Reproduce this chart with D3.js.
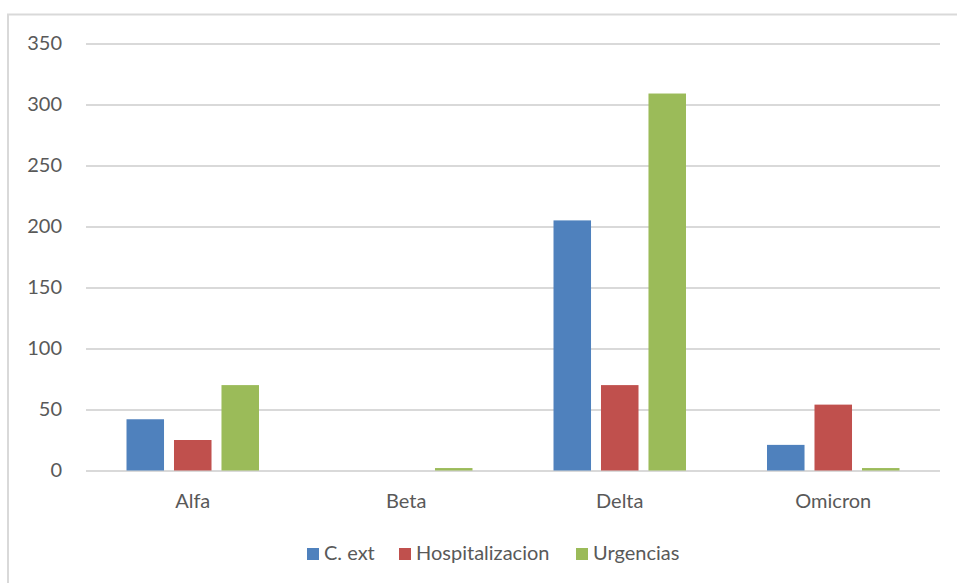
<!DOCTYPE html>
<html>
<head>
<meta charset="utf-8">
<script src="https://cdn.jsdelivr.net/npm/d3@7"></script>
<style>
  html, body { margin: 0; padding: 0; background: #ffffff; }
  svg { display: block; }
  text { font-family: Lato, "Open Sans", sans-serif; fill: #595959; }
</style>
</head>
<body>
<svg id="chart" width="957" height="583"></svg>
<script>
// Cases per variant and care type
const categories = ["Alfa", "Beta", "Delta", "Omicron"];
const seriesNames = ["C. ext", "Hospitalizacion", "Urgencias"];
const cExt = [42, 0, 205, 21];
const hospitalizacion = [25, 0, 70, 54];
const urgencias = [70, 2, 309, 2];
const yTicks = [0, 50, 100, 150, 200, 250, 300, 350];
const colors = ["#4F81BD", "#C0504D", "#9BBB59"];

const seriesValues = [cExt, hospitalizacion, urgencias];

const svg = d3.select("#chart");
const W = 957, H = 583;

// chart area frame
svg.append("rect")
  .attr("x", 8).attr("y", 14.5)
  .attr("width", 1200).attr("height", 1200)
  .attr("fill", "#ffffff")
  .attr("stroke", "#d9d9d9").attr("stroke-width", 2);

const plot = { left: 86, right: 940, top: 43.5, bottom: 470.5 };

const x = d3.scaleBand()
  .domain(categories)
  .range([plot.left, plot.right])
  .paddingInner(0).paddingOuter(0);

const xs = d3.scaleBand()
  .domain(seriesNames)
  .range([0, x.bandwidth()])
  .paddingInner(0.21)
  .paddingOuter(0.853);

const y = d3.scaleLinear()
  .domain([0, 350])
  .range([plot.bottom, plot.top]);

// horizontal gridlines and value labels
const yAxis = d3.axisLeft(y)
  .tickValues(yTicks)
  .tickSize(-(plot.right - plot.left))
  .tickPadding(24)
  .tickFormat(d3.format("d"));

const gy = svg.append("g")
  .attr("transform", `translate(${plot.left},0)`)
  .call(yAxis);
gy.select(".domain").remove();
gy.selectAll(".tick line")
  .attr("stroke", "#d9d9d9")
  .attr("stroke-width", 2);
gy.selectAll(".tick text")
  .attr("fill", "#595959")
  .style("font-size", "20px");

// bars
const rows = categories.map((c, i) => ({
  category: c,
  values: seriesNames.map((s, j) => ({ series: s, value: seriesValues[j][i], color: colors[j] }))
}));

const groups = svg.append("g").selectAll("g")
  .data(rows)
  .join("g")
  .attr("transform", d => `translate(${x(d.category)},0)`);

groups.selectAll("rect")
  .data(d => d.values)
  .join("rect")
  .attr("x", d => xs(d.series))
  .attr("width", xs.bandwidth())
  .attr("y", d => y(d.value))
  .attr("height", d => y(0) - y(d.value))
  .attr("fill", d => d.color);

// category labels
const xAxis = d3.axisBottom(x).tickSize(0).tickPadding(23);
const gx = svg.append("g")
  .attr("transform", `translate(0,${plot.bottom})`)
  .call(xAxis);
gx.select(".domain").remove();
gx.selectAll(".tick text")
  .attr("fill", "#595959")
  .style("font-size", "20px");

// legend
const legendItems = [
  { name: seriesNames[0], color: colors[0], x: 307 },
  { name: seriesNames[1], color: colors[1], x: 399 },
  { name: seriesNames[2], color: colors[2], x: 576 }
];
const lg = svg.append("g");
const li = lg.selectAll("g").data(legendItems).join("g")
  .attr("transform", d => `translate(${d.x},548)`);
li.append("rect")
  .attr("width", 12).attr("height", 12)
  .attr("fill", d => d.color);
li.append("text")
  .attr("x", 17).attr("y", 12)
  .style("font-size", "20px")
  .text(d => d.name);
</script>
</body>
</html>
